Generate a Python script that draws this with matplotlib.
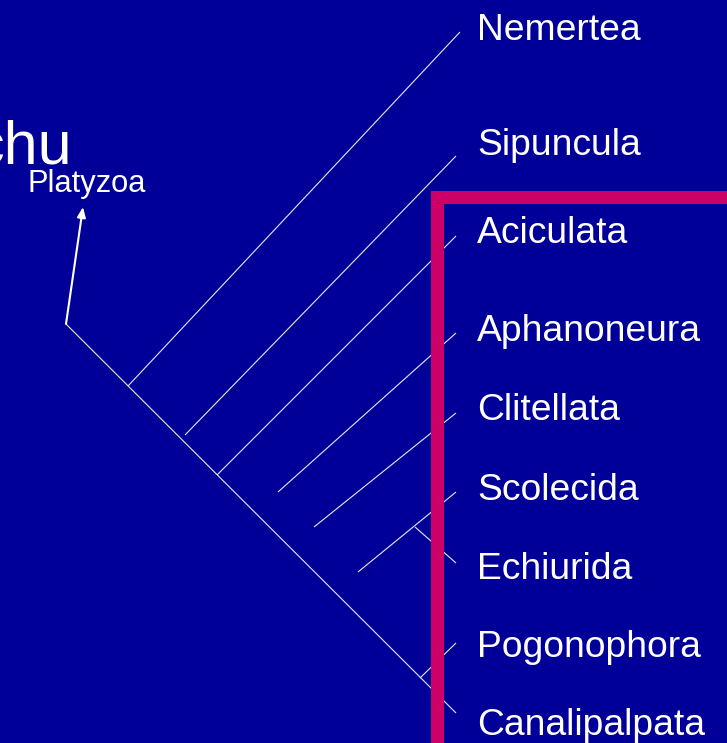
import matplotlib
matplotlib.use("Agg")
import matplotlib.pyplot as plt

plt.rcParams['font.family'] = ['Liberation Sans', 'DejaVu Sans']

# taxa, label baselines and branch geometry (in picture pixels)
taxa = ['Nemertea', 'Sipuncula', 'Aciculata', 'Aphanoneura', 'Clitellata',
        'Scolecida', 'Echiurida', 'Pogonophora', 'Canalipalpata']
label_y = [40, 155, 243, 341, 420, 500, 579, 657, 735]
tip_x = [460, 456, 456, 456, 456, 456, 456, 456, 456]
tip_y = [32, 156, 236, 333, 413, 492, 563, 643, 713]
base_x = [128, 185, 217, 278, 314, 358, 415, 420, 66]
base_y = [386, 435, 475, 492, 527, 572, 527, 678, 324]

root = (66, 324)
arrow_tip = (83, 207)

# pink frame: left edge and top edge
frame_x = [436.5, 436.5, 760]
frame_y = [780, 196.5, 196.5]

W, H = 727, 743
fig = plt.figure(figsize=(W / 100, H / 100), dpi=100)
fig.patch.set_facecolor('#000099')
ax = fig.add_axes([0, 0, 1, 1])
ax.set_facecolor('#000099')
ax.set_xlim(0, W)
ax.set_ylim(H, 0)
ax.axis('off')

# branches
for x0, y0, x1, y1 in zip(base_x, base_y, tip_x, tip_y):
    ax.plot([x0, x1], [y0, y1], color='#e8e8f4', lw=0.8, zorder=2,
            solid_capstyle='butt')

# arrow to Platyzoa
ax.annotate('', xy=arrow_tip, xytext=root,
            arrowprops=dict(arrowstyle='-|>,head_length=0.6,head_width=0.25',
                            color='white', lw=1.5, shrinkA=0, shrinkB=0),
            zorder=3)

ax.plot(frame_x, frame_y, color='#cc0066', lw=9.4, solid_joinstyle='miter',
        solid_capstyle='butt', zorder=4)

for name, y in zip(taxa, label_y):
    ax.text(477, y, name, color='white', fontsize=26.8, va='baseline',
            ha='left', zorder=5)

ax.text(27, 192, 'Platyzoa', color='white', fontsize=22.2, va='baseline',
        ha='left', zorder=5)
ax.text(72, 163, 'chu', color='white', fontsize=44, va='baseline',
        ha='right', zorder=5)

fig.savefig('out.png', dpi=100, facecolor=fig.get_facecolor())
